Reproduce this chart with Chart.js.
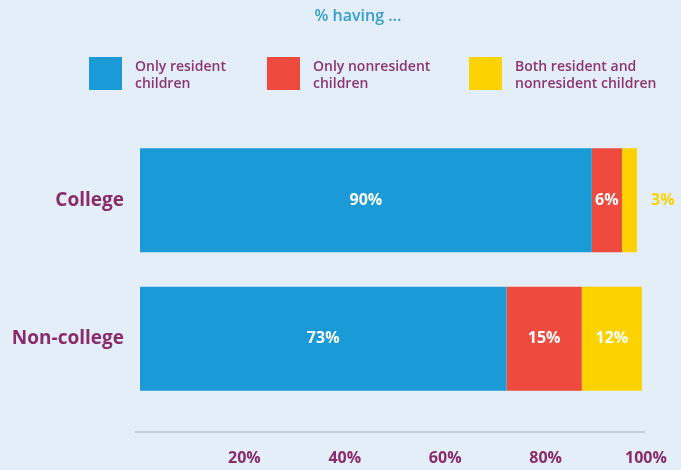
<!DOCTYPE html>
<html>
<head>
<meta charset="utf-8">
<script src="https://cdn.jsdelivr.net/npm/chart.js@4.4.1/dist/chart.umd.min.js"></script>
<style>
  html, body { margin: 0; padding: 0; background: #e3eef9; }
  #wrap { width: 681px; height: 470px; position: relative; }
</style>
</head>
<body>
<div id="wrap"><canvas id="chart"></canvas></div>
<script>
// groups and shares (%)
const categories = ['College', 'Non-college'];
const onlyResident = [90, 73];
const onlyNonresident = [6, 15];
const bothKinds = [3, 12];
const seriesNames = [
    ['Only resident', 'children'],
    ['Only nonresident', 'children'],
    ['Both resident and', 'nonresident children']
];
const tickValues = [20, 40, 60, 80, 100];

const purple = '#8a2b6b';
const colors = ['#1a9bd8', '#ee4a3e', '#fcd300'];

// heading plus a two-line legend, drawn on the canvas
const headerBlock = {
    id: 'headerBlock',
    afterDraw(chart, args, opts) {
        const ctx = chart.ctx;
        ctx.save();
        ctx.textBaseline = 'middle';
        ctx.textAlign = 'center';
        ctx.fillStyle = '#339fd1';
        ctx.font = '600 16px "Open Sans", sans-serif';
        ctx.fillText(opts.title, opts.titleX, opts.titleY);

        ctx.textAlign = 'left';
        ctx.font = '600 14px "Open Sans", sans-serif';
        chart.data.datasets.forEach((ds, i) => {
            const x = opts.xs[i];
            ctx.fillStyle = ds.backgroundColor;
            ctx.fillRect(x, opts.y, opts.size, opts.size);
            ctx.fillStyle = '#8c3572';
            ds.label.forEach((line, j) => {
                ctx.fillText(line, x + opts.size + 13, opts.y + 10 + j * 17);
            });
        });
        ctx.restore();
    }
};

// value labels inside the bars, outside when the bar is too thin
const barLabels = {
    id: 'barLabels',
    afterDatasetsDraw(chart) {
        const ctx = chart.ctx;
        ctx.save();
        ctx.font = 'bold 16px "Open Sans", sans-serif';
        ctx.textBaseline = 'middle';
        chart.data.datasets.forEach((ds, i) => {
            chart.getDatasetMeta(i).data.forEach((bar, j) => {
                const text = ds.data[j] + '%';
                const w = bar.x - bar.base;
                const tw = ctx.measureText(text).width;
                if (tw + 4 > w) {
                    ctx.fillStyle = ds.backgroundColor;
                    ctx.textAlign = 'left';
                    ctx.fillText(text, bar.x + 14, bar.y);
                } else {
                    ctx.fillStyle = '#ffffff';
                    ctx.textAlign = 'center';
                    ctx.fillText(text, (bar.x + bar.base) / 2, bar.y);
                }
            });
        });
        ctx.restore();
    }
};

// thin baseline above the percentage ticks
const baseLine = {
    id: 'baseLine',
    beforeDatasetsDraw(chart) {
        const ctx = chart.ctx;
        const area = chart.chartArea;
        const y = area.bottom + 24;
        ctx.save();
        ctx.strokeStyle = '#c6d1dc';
        ctx.lineWidth = 2;
        ctx.beginPath();
        ctx.moveTo(area.left - 5, y);
        ctx.lineTo(area.right + 3, y);
        ctx.stroke();
        ctx.restore();
    }
};

new Chart(document.getElementById('chart'), {
    type: 'bar',
    data: {
        labels: categories,
        datasets: [
            { label: seriesNames[0], data: onlyResident, backgroundColor: colors[0] },
            { label: seriesNames[1], data: onlyNonresident, backgroundColor: colors[1] },
            { label: seriesNames[2], data: bothKinds, backgroundColor: colors[2] }
        ]
    },
    options: {
        indexAxis: 'y',
        responsive: true,
        maintainAspectRatio: false,
        animation: false,
        layout: { padding: { left: 0, right: 39, top: 131, bottom: 0 } },
        datasets: {
            bar: { barPercentage: 1, categoryPercentage: 0.75, borderWidth: 0 }
        },
        scales: {
            x: {
                stacked: true,
                min: 0,
                max: 100,
                grid: { display: false, drawTicks: false },
                border: { display: false },
                afterBuildTicks: scale => {
                    scale.ticks = tickValues.map(v => ({ value: v }));
                },
                afterFit: scale => {
                    // let "100%" hang past the plot edge instead of squeezing the bars
                    scale.height = 62;
                    scale.paddingLeft = 0;
                    scale.paddingRight = 0;
                },
                ticks: {
                    padding: 41,
                    labelOffset: 4,
                    maxRotation: 0,
                    color: purple,
                    font: { family: '"Open Sans", sans-serif', size: 16, weight: 'bold' },
                    callback: v => v + '%'
                }
            },
            y: {
                stacked: true,
                grid: { display: false, drawTicks: false },
                border: { display: false },
                afterFit: scale => { scale.width = 140; },
                ticks: {
                    padding: 16,
                    color: purple,
                    font: { family: '"Open Sans", sans-serif', size: 19, weight: 'bold' }
                }
            }
        },
        plugins: {
            legend: { display: false },
            tooltip: { enabled: false },
            title: { display: false },
            headerBlock: {
                title: '% having ...',
                titleX: 358, titleY: 16,
                xs: [89, 267, 469], y: 57, size: 33
            }
        }
    },
    plugins: [headerBlock, barLabels, baseLine]
});
</script>
</body>
</html>
